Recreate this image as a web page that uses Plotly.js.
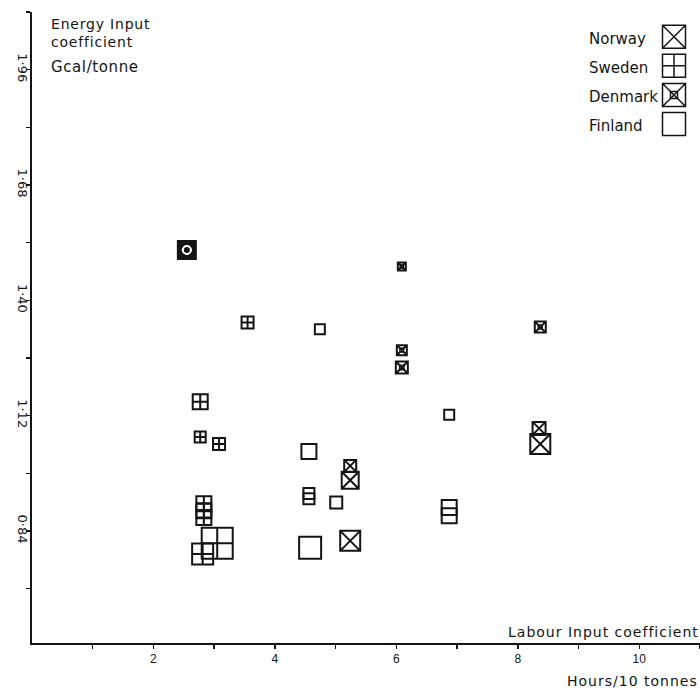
<!DOCTYPE html>
<html><head><meta charset="utf-8">
<script src="https://cdn.plot.ly/plotly-3.0.1.min.js"></script>
<style>html,body{margin:0;padding:0;background:#fff}#chart{width:700px;height:688px}</style>
</head><body><div id="chart"></div>
<script>
// ---------- data (labour hours / 10 tonnes, energy Gcal / tonne) ----------
const countries = ['Norway', 'Sweden', 'Denmark', 'Finland'];

const norwayLabour = [5.24, 5.24, 5.24, 8.35, 8.37];
const norwayEnergy = [0.998, 0.963, 0.816, 1.089, 1.051];
const norwaySize   = [12, 17, 20, 13, 20];

const swedenLabour = [3.55, 2.77, 2.77, 3.08, 2.83, 2.83, 2.83, 3.05, 2.81];
const swedenEnergy = [1.346, 1.154, 1.068, 1.051, 0.906, 0.889, 0.873, 0.810, 0.784];
const swedenSize   = [12, 15, 11, 12, 15, 15, 15, 31, 21];

const denmarkLabour = [2.55, 6.09, 6.09, 6.09, 8.37];
const denmarkEnergy = [1.522, 1.482, 1.279, 1.237, 1.335];
const denmarkSize   = [15, 8, 10, 12, 11];

const finlandLabour = [4.74, 6.87, 4.56, 4.56, 4.56, 5.01, 4.58, 6.87, 6.87];
const finlandEnergy = [1.330, 1.122, 1.033, 0.931, 0.918, 0.909, 0.799, 0.897, 0.877];
const finlandSize   = [10, 10, 15, 11, 11, 12, 22, 15, 15];

const xTickVals = [1, 2, 3, 4, 5, 6, 7, 8, 9, 10, 11];
const xTickText = ['', '2', '', '4', '', '6', '', '8', '', '10', ''];
const yTickVals = [0.70, 0.84, 0.98, 1.12, 1.26, 1.40, 1.54, 1.68, 1.82, 1.96, 2.10];
const yTickText = ['', '0·84', '', '1·12', '', '1·40', '', '1·68', '', '1·96', ''];

// ---------- styling ----------
const INK = '#141414';
const FONT = 'DejaVu Sans, Liberation Sans, sans-serif';
const symbols = {Norway: 'square-x-open', Sweden: 'square-cross-open', Denmark: 'square-x-open', Finland: 'square-open'};

function pts(name, x, y, size, lw) {
  return {type: 'scatter', mode: 'markers', name: name, x: x, y: y, showlegend: false,
    cliponaxis: false, hoverinfo: 'skip',
    marker: {symbol: symbols[name], size: size, opacity: 1, color: INK, line: {color: INK, width: lw}}};
}
// Denmark: first observation drawn with a heavy outline
const denmarkLw = denmarkSize.map((s, i) => i === 0 ? 5 : 2);
const denmarkInner = {type: 'scatter', mode: 'markers', x: denmarkLabour, y: denmarkEnergy,
  showlegend: false, cliponaxis: false, hoverinfo: 'skip',
  marker: {
    opacity: 1,
    symbol: denmarkSize.map((s, i) => i === 0 ? 'circle-open' : 'square-open'),
    size: denmarkSize.map((s, i) => i === 0 ? 8 : Math.max(3, s * 0.38)),
    color: denmarkSize.map((s, i) => i === 0 ? '#ffffff' : INK),
    line: {width: denmarkSize.map((s, i) => i === 0 ? 2 : 1.3)}
  }};

// legend key: one symbol per country on an overlaid, hidden axis pair
const keyX = countries.map(() => 0);
const keyY = countries.map((c, i) => -i);
const legendKeys = {type: 'scatter', mode: 'markers', x: keyX, y: keyY, xaxis: 'x2', yaxis: 'y2',
  showlegend: false, hoverinfo: 'skip', cliponaxis: false,
  marker: {symbol: countries.map(c => symbols[c]), size: 23, opacity: 1, color: INK, line: {color: INK, width: 1.5}}};
const dIdx = countries.indexOf('Denmark');
const legendDenmarkCentre = {type: 'scatter', mode: 'markers', x: [keyX[dIdx]], y: [keyY[dIdx]],
  xaxis: 'x2', yaxis: 'y2', showlegend: false, hoverinfo: 'skip', cliponaxis: false,
  marker: {symbol: 'square-open', size: 7, color: INK, line: {color: INK, width: 1.5}}};

const traces = [
  pts('Norway', norwayLabour, norwayEnergy, norwaySize, 2),
  pts('Sweden', swedenLabour, swedenEnergy, swedenSize, 2),
  pts('Denmark', denmarkLabour, denmarkEnergy, denmarkSize, denmarkLw),
  denmarkInner,
  pts('Finland', finlandLabour, finlandEnergy, finlandSize, 2),
  legendKeys, legendDenmarkCentre
];

const spaced = (t, ls) => '<span style="letter-spacing:' + ls + 'px">' + t + '</span>';
function ann(text, x, y, xanchor, yanchor, size, ref) {
  return {text: text, xref: ref ? 'x2' : 'paper', yref: ref ? 'y2' : 'paper', x: x, y: y,
    xanchor: xanchor, yanchor: yanchor, showarrow: false, align: 'left',
    font: {family: FONT, size: size, color: INK}};
}
// paper coordinates: plot area spans 32..700 px horizontally, 12..643 px vertically
const px = v => (v - 32) / 668;
const py = v => (643 - v) / 631;

const annotations = [
  ann(spaced('Energy Input', 0.8) + '<br>' + spaced('coefficient', 0.8), px(49), py(14), 'left', 'top', 14),
  ann(spaced('Gcal/tonne', 0.6), px(49), py(67), 'left', 'middle', 15),
  ann(spaced('Labour Input coefficient', 1), px(701), py(632), 'right', 'middle', 14),
  ann(spaced('Hours/10 tonnes', 1), px(700), py(681), 'right', 'middle', 14)
].concat(countries.map((c, i) => Object.assign(
  ann(c, -87, keyY[i], 'left', 'middle', 15, true), {yshift: -2})));

const layout = {
  width: 700, height: 688,
  margin: {l: 32, r: 0, t: 12, b: 45, autoexpand: false},
  paper_bgcolor: '#ffffff', plot_bgcolor: '#ffffff',
  font: {family: FONT, color: INK},
  showlegend: false,
  xaxis: {range: [0, 11], showgrid: false, zeroline: false, showline: true, linecolor: INK, linewidth: 2,
    tickmode: 'array', tickvals: xTickVals, ticktext: xTickText, ticks: 'outside', ticklen: 4,
    tickcolor: INK, tickwidth: 1.5, tickfont: {size: 12, family: 'Liberation Sans, Arial, sans-serif', color: INK}},
  yaxis: {range: [0.568, 2.10], showgrid: false, zeroline: false, showline: true, linecolor: INK, linewidth: 2,
    tickmode: 'array', tickvals: yTickVals, ticktext: yTickText, ticks: 'outside', ticklen: 4,
    ticklabelstandoff: -8,
    tickcolor: INK, tickwidth: 1.5, tickangle: 90, tickfont: {size: 13, family: FONT, color: INK}},
  // hidden axes for the legend key (1 px per unit horizontally, 29 px per row vertically)
  xaxis2: {overlaying: 'x', anchor: 'y2', visible: false, range: [-642, 26], fixedrange: true},
  yaxis2: {overlaying: 'y', anchor: 'x2', visible: false, range: [-20.83, 0.849], fixedrange: true},
  annotations: annotations
};

Plotly.newPlot('chart', traces, layout, {staticPlot: true, displayModeBar: false});
</script>
</body></html>
